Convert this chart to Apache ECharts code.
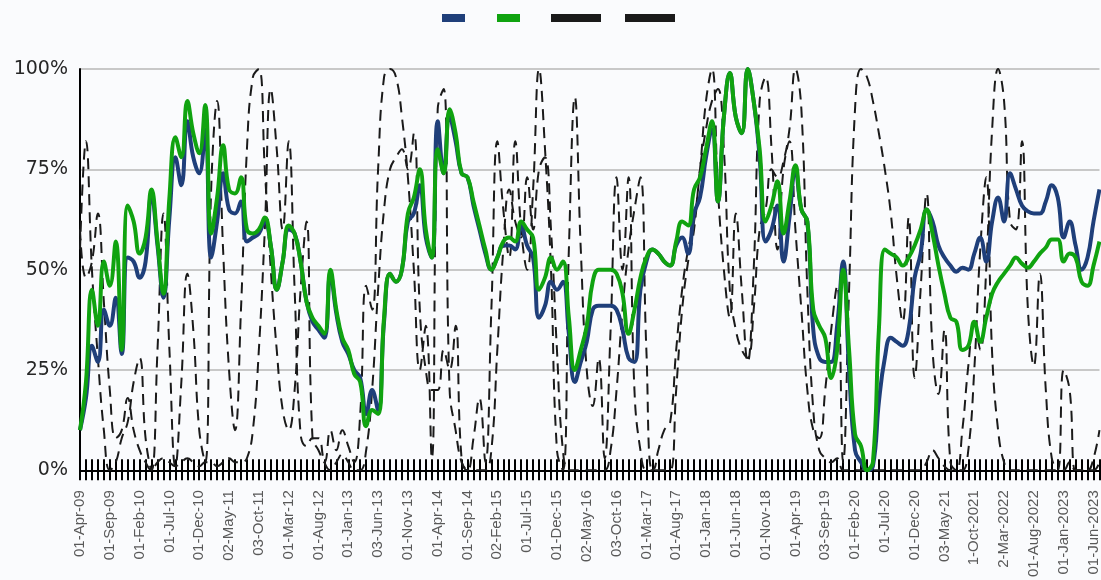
<!DOCTYPE html>
<html>
<head>
<meta charset="utf-8">
<script src="https://cdn.jsdelivr.net/npm/echarts@6/dist/echarts.min.js"></script>
<style>
html,body{margin:0;padding:0;background:#fafbfd;}
#chart{width:1101px;height:580px;}
</style>
</head>
<body>
<div id="chart"></div>
<script>
// Tick labels shown every 5 months (first category = Apr 2009)
const tickLabels = ["01-Apr-09","01-Sep-09","01-Feb-10","01-Jul-10","01-Dec-10","02-May-11","03-Oct-11","01-Mar-12","01-Aug-12","01-Jan-13","03-Jun-13","01-Nov-13","01-Apr-14","01-Sep-14","02-Feb-15","01-Jul-15","01-Dec-15","02-May-16","03-Oct-16","01-Mar-17","01-Aug-17","01-Jan-18","01-Jun-18","01-Nov-18","01-Apr-19","03-Sep-19","01-Feb-20","01-Jul-20","01-Dec-20","03-May-21","1-Oct-2021","2-Mar-2022","01-Aug-2022","01-Jan-2023","01-Jun-2023"];
const monthNames = ["Jan","Feb","Mar","Apr","May","Jun","Jul","Aug","Sep","Oct","Nov","Dec"];
const nMonths = 172;
const categories = [];
for (let i = 0; i < nMonths; i++) {
  if (i % 5 === 0) categories.push(tickLabels[i / 5]);
  else {
    const m = (3 + i) % 12, y = 2009 + Math.floor((3 + i) / 12);
    categories.push("01-" + monthNames[m] + "-" + String(y).slice(2));
  }
}

const seriesBlue = [
10,18,31,27,40,36,43,29,53,52,
48,52,69,56,43,63,78,71,87,78,
74,85,53,62,74,65,64,67,57,58,
59,62,56,45,52,60,59,52,42,37,
35,33,49,39,32,29,25,23,14,20,
15,37,49,47,50,62,64,71,58,53,
87,74,88,82,74,73,66,60,54,50,
53,56,56,55,61,56,53,38,41,47,
45,47,34,22,27,32,40,41,41,41,
40,35,28,27,45,52,55,54,52,51,
56,58,54,64,68,78,85,67,88,99,
88,84,100,92,78,57,60,66,52,63,
75,65,62,35,28,27,27,36,52,25,
5,2,0,1,17,28,33,32,31,35,
48,54,65,62,56,53,51,49.5,50.5,50,
54,58,52,62,68,62,74,70,66,64.5,
64,64,67,71,68,58,62,56,50,53,
62,70];

const seriesGreen = [
10,22,45,36,52,46,57,30,66,62,
54,58,70,57,44,68,83,78,92,84,
79,91,59,68,81,70,69,73,60,59,
60,63,56,45,52,61,59,52,42,38,
36,34,50,40,33,30,24,22,11,15,
14,38,49,47,50,64,68,75,60,53,
80,74,90,84,74,73,67,61,55,50,
53,57,58,57,62,60,58,45,48,53,
50,52,38,25,30,36,47,50,50,50,
49,44,34,40,48,53,55,54,52,51,
57,62,61,70,73,80,87,67,88,99,
88,84,100,92,80,62,66,72,59,67,
76,65,62,40,36,33,23,30,50,30,
9,6,0,2,35,55,54,53,51,53,
56,60,65,59,51,44,38,37,30,31,
37,32,38,44,47,49,51,53,51.5,50.5,
52,54,55.5,57.5,57.5,52,54,53,47,46,
51,57];

const seriesDash1 = [
55,82,50,28,10,0,2,8,12,22,
28,8,0,30,64,30,1,22,49,35,
10,2,70,92,55,25,10,40,80,98,
100,75,50,30,15,10,20,45,62,8,
5,2,10,5,10,6,2,14,46,40,
75,98,100,98,88,73,50,25,36,3,
90,95,20,10,2,0,8,18,2,40,
82,65,53,82,60,50,70,100,80,50,
5,0,55,93,55,25,16,28,3,35,
73,50,73,20,5,0,0,5,10,12,
30,45,55,62,75,92,100,70,50,38,
64,45,27,50,92,98,80,55,75,82,
60,40,20,10,8,20,35,46,2,45,
90,100,98,92,84,75,64,48,37,63,
23,45,69,30,19,35,2,0,10,26,
37,30,50,85,100,92,62,60,82,40,
26,49,20,3,0,25,20,0,0,0,
3,10];

const seriesDash2 = [
60,48,52,64,42,20,8,10,18,10,
5,2,0,2,3,2,1,2,3,2,
1,2,2,1,2,3,2,2,3,10,
30,60,95,80,60,82,45,9,6,8,
8,2,0,2,4,2,0,0,5,20,
45,65,75,78,80,75,84,40,25,20,
20,30,25,36,3,0,0,0,0,5,
30,55,70,62,58,73,60,75,78,60,
30,5,0,0,0,0,0,0,0,5,
20,40,55,65,73,30,0,0,0,0,
20,40,52,60,75,85,92,95,80,45,
35,30,28,40,60,65,75,73,77,85,
100,90,45,15,5,3,2,3,0,0,
0,0,0,0,0,0,0,0,0,0,
0,0,2,5,3,1,0,0,0,5,
25,55,73,29,10,2,0,0,0,0,
0,0,0,0,0,0,2,0,0,0,
0,2];

const names = ["Series A","Series B","Series C","Series D"];
const colors = ["#1f3f7a","#10a310","#1a1a1a","#1a1a1a"];

const chart = echarts.init(document.getElementById('chart'), null, {renderer:'canvas'});

function legendFor(i, left, w) {
  return {
    show: true, left: left, top: 14, itemWidth: w, itemHeight: 8, icon: 'rect',
    selectedMode: false, padding: 0, itemGap: 0,
    formatter: () => '', data: [{name: names[i], itemStyle: {color: colors[i]}}]
  };
}

const lineCommon = {type:'line', smooth: 0.45, showSymbol:false, symbol:'none', xAxisIndex:0, yAxisIndex:0};

chart.setOption({
  backgroundColor: '#fafbfd',
  animation: false,
  legend: [legendFor(0, 442, 23), legendFor(1, 497, 23), legendFor(2, 551, 50), legendFor(3, 625, 50)],
  grid: {left: 80, right: 1, top: 69, bottom: 109, containLabel: false},
  xAxis: [{
    type: 'category', data: categories, boundaryGap: false,
    axisLine: {show: true, lineStyle: {color: '#000', width: 2}},
    axisTick: {show: true, interval: 0, length: 10, lineStyle: {color: '#000', width: 2}},
    axisLabel: {interval: 4, rotate: 90, margin: 20, color: '#595959', fontSize: 15, fontFamily: 'Liberation Sans, Arial, sans-serif'},
    splitLine: {show: false}
  }, {
    type: 'category', data: categories, boundaryGap: false, position: 'bottom',
    axisLine: {show: false},
    axisTick: {show: true, inside: true, interval: 0, length: 11, lineStyle: {color: '#000', width: 2}},
    axisLabel: {show: false}, splitLine: {show: false}
  }],
  yAxis: {
    type: 'value', min: 0, max: 100, interval: 25,
    axisLine: {show: true, lineStyle: {color: '#000', width: 2}},
    axisTick: {show: false},
    axisLabel: {formatter: '{value}%', color: '#262626', fontSize: 19, fontFamily: 'DejaVu Sans, sans-serif', margin: 12},
    splitLine: {show: true, lineStyle: {color: '#c8c8c8', width: 2}}
  },
  series: [
    Object.assign({}, lineCommon, {name: names[2], data: seriesDash1, z: 2, lineStyle: {color: colors[2], width: 2, type: [11, 7]}, itemStyle: {color: colors[2]}}),
    Object.assign({}, lineCommon, {name: names[3], data: seriesDash2, z: 2, lineStyle: {color: colors[3], width: 2, type: [11, 7]}, itemStyle: {color: colors[3]}}),
    Object.assign({}, lineCommon, {name: names[0], data: seriesBlue, z: 3, lineStyle: {color: colors[0], width: 4}, itemStyle: {color: colors[0]}}),
    Object.assign({}, lineCommon, {name: names[1], data: seriesGreen, z: 4, lineStyle: {color: colors[1], width: 4}, itemStyle: {color: colors[1]}})
  ]
});
</script>
</body>
</html>
